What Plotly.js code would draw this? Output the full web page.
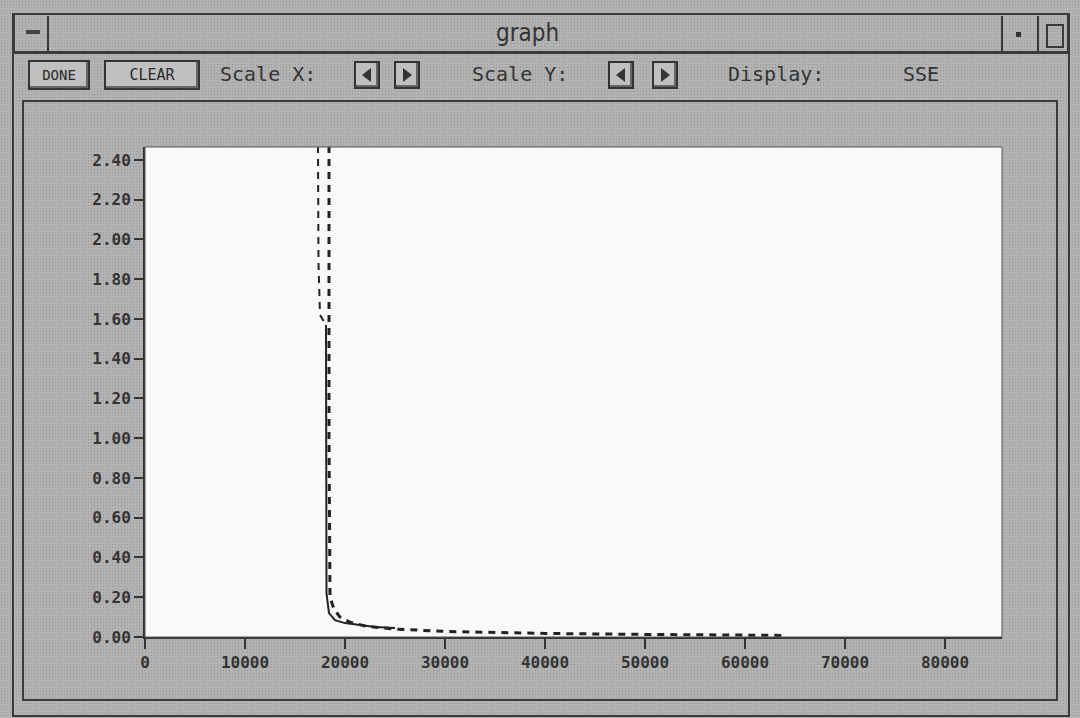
<!DOCTYPE html>
<html>
<head>
<meta charset="utf-8">
<script src="https://cdn.plot.ly/plotly-3.0.1.min.js"></script>
<style>
  html, body { margin:0; padding:0; width:1080px; height:718px; overflow:hidden; }
  body { background:#b2b2b2;
    background-image: radial-gradient(#969696 0.6px, transparent 0.8px);
    background-size: 3px 3px; position:relative;
    font-family: "DejaVu Sans Mono", monospace; color:#2a2a2a; }
  .box { position:absolute; border:2px solid #3a3a3a; box-sizing:border-box; }
  .lbl { position:absolute; font-size:20px; font-weight:normal; white-space:pre; color:#333; }
  .btn { position:absolute; border:2px solid #333; box-shadow: inset -2px -2px 0 #666; box-sizing:border-box;
         font-size:14px; text-align:center; line-height:24px; background:#c0c0c0; }
  .arr { position:absolute; width:26px; height:28px; border:2px solid #333; box-sizing:border-box; background:#c0c0c0;
         box-shadow: inset -2px -2px 0 #666; }
  #chart { position:absolute; left:0; top:0; width:1080px; height:718px; }
</style>
</head>
<body>
<!-- window frame -->
<div class="box" style="left:12px;top:13px;width:1058px;height:704px;border-width:2px;"></div>
<!-- title bar -->
<div class="box" style="left:14px;top:14px;width:1054px;height:40px;border-width:1px 1px 3px 1px;"></div>
<div class="box" style="left:15px;top:16px;width:34px;height:36px;border-width:0 2px 0 0;"></div>
<div style="position:absolute;left:26px;top:30px;width:14px;height:4px;background:#444;"></div>
<div class="box" style="left:1001px;top:16px;width:38px;height:36px;border-width:0 2px 0 2px;"></div>
<div style="position:absolute;left:1016px;top:32px;width:5px;height:5px;background:#333;"></div>
<div class="box" style="left:1046px;top:24px;width:18px;height:24px;border-width:2px;"></div>
<div class="lbl" style="left:496px;top:19px;font-family:'DejaVu Sans Condensed','DejaVu Sans';font-size:24px;">graph</div>
<!-- toolbar -->
<div class="btn" style="left:28px;top:60px;width:62px;height:30px;line-height:26px;">DONE</div>
<div class="btn" style="left:104px;top:60px;width:96px;height:30px;line-height:26px;font-size:15px;">CLEAR</div>
<div class="lbl" style="left:220px;top:62px;">Scale X:</div>
<div class="arr" style="left:354px;top:61px;"><svg width="22" height="24"><polygon points="15,5 15,19 6,12" fill="#333"/></svg></div>
<div class="arr" style="left:394px;top:61px;"><svg width="22" height="24"><polygon points="7,5 7,19 16,12" fill="#333"/></svg></div>
<div class="lbl" style="left:472px;top:62px;">Scale Y:</div>
<div class="arr" style="left:608px;top:61px;"><svg width="22" height="24"><polygon points="15,5 15,19 6,12" fill="#333"/></svg></div>
<div class="arr" style="left:652px;top:61px;"><svg width="22" height="24"><polygon points="7,5 7,19 16,12" fill="#333"/></svg></div>
<div class="lbl" style="left:728px;top:62px;">Display:</div>
<div class="lbl" style="left:903px;top:62px;">SSE</div>
<!-- inner canvas frame -->
<div class="box" style="left:22px;top:100px;width:1036px;height:601px;border-width:2px;"></div>
<div id="chart"></div>
<script>
// Series (x = iteration, y = SSE)
var seriesA_x = [17300, 17300, 17350, 17500, 18100];
var seriesA_y = [2.47, 2.10, 1.88, 1.62, 1.57];

var seriesB_x = [18100, 18100, 18150, 18400, 19000, 20000, 21500, 23000, 25000];
var seriesB_y = [1.57, 0.60, 0.22, 0.12, 0.085, 0.07, 0.06, 0.05, 0.045];

var seriesC_x = [18400, 18400, 18500, 18900, 19500, 20500, 22000, 25000, 30000, 35000, 40000, 50000, 60000, 64000];
var seriesC_y = [2.47, 1.00, 0.20, 0.14, 0.10, 0.075, 0.055, 0.040, 0.028, 0.022, 0.018, 0.013, 0.010, 0.008];

var xTicks = [0, 10000, 20000, 30000, 40000, 50000, 60000, 70000, 80000];
var yTicks = [0, 0.2, 0.4, 0.6, 0.8, 1.0, 1.2, 1.4, 1.6, 1.8, 2.0, 2.2, 2.4];

var traces = [
  {x: seriesA_x, y: seriesA_y, mode:'lines', line:{color:'#222', width:2, dash:'7px,6px'}, hoverinfo:'skip'},
  {x: seriesB_x, y: seriesB_y, mode:'lines', line:{color:'#222', width:2}, hoverinfo:'skip'},
  {x: seriesC_x, y: seriesC_y, mode:'lines', line:{color:'#222', width:3, dash:'7px,6px'}, hoverinfo:'skip'}
];

var tf = {family:'DejaVu Sans Mono, monospace', size:16, color:'#333', weight:'bold'};
var layout = {
  width:1080, height:718,
  margin:{l:145, r:78, t:147, b:81, pad:0},
  paper_bgcolor:'rgba(0,0,0,0)',
  plot_bgcolor:'#f9f9f9',
  showlegend:false,
  font:{family:'DejaVu Sans Mono, monospace', size:16, color:'#333'},
  xaxis:{range:[0, 85700], tickvals:xTicks, ticktext:xTicks.map(function(v){return String(v);}),
         ticks:'outside', ticklen:10, tickwidth:2, tickcolor:'#333',
         showline:true, linecolor:'#333', linewidth:2, showgrid:false, zeroline:false, tickfont:tf},
  yaxis:{range:[0, 2.465], tickvals:yTicks, ticktext:yTicks.map(function(v){return v.toFixed(2);}),
         ticks:'outside', ticklen:9, tickwidth:2, tickcolor:'#333',
         showline:true, linecolor:'#333', linewidth:2, showgrid:false, zeroline:false, tickfont:tf},
  shapes:[{type:'rect', xref:'paper', yref:'paper', x0:0, x1:1, y0:0, y1:1, line:{color:'#555', width:1}}]
};
Plotly.newPlot('chart', traces, layout, {displayModeBar:false, staticPlot:true});
</script>
</body>
</html>
